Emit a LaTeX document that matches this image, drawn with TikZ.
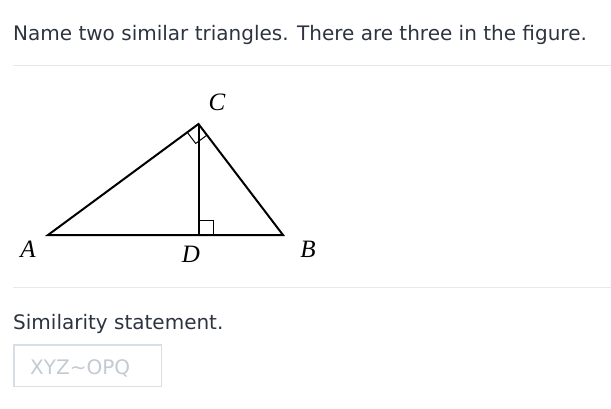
\documentclass[tikz,border=0pt]{standalone}
\usepackage{fontspec}
\setmainfont{DejaVu Sans}
\newfontfamily\labelfont{Liberation Serif}
\usetikzlibrary{calc}
\usepackage{xcolor}
\definecolor{text_dark}{HTML}{2D3440}
\definecolor{rule_gray}{HTML}{E8E8E8}
\definecolor{box_border}{HTML}{D8DEE6}
\definecolor{hint_gray}{HTML}{C3CAD2}

\begin{document}
\begin{tikzpicture}[x=1pt, y=-1pt,
	question/.style={anchor=base west, inner sep=0pt, text=text_dark, font=\fontsize{20}{24}\selectfont},
	vertex/.style={inner sep=0pt, font=\labelfont\itshape\fontsize{25}{28}\selectfont}]
	\useasboundingbox (0, 0) rectangle (611, 408);
	% header and rules
	\node[question] (Q) at (13, 40) {Name two similar triangles. There are three in the figure.};
	\draw[rule_gray] (13, 65.5) -- (611, 65.5);
	\draw[rule_gray] (13, 287.5) -- (611, 287.5);
	% triangle
	\coordinate (A) at (48, 235);
	\coordinate (B) at (283, 235);
	\coordinate (C) at (198.5, 124);
	\coordinate (D) at (198.5, 235);
	\draw[line width=2pt, line join=miter] (A) -- (B) -- (C) -- cycle;
	\draw[line width=2pt] (C) -- (D);
	\draw[line width=1pt] ($(D) + (0, -14.5)$) -- ($(D) + (14.5, -14.5)$) -- ($(D) + (14.5, 0)$);
	\coordinate (CA) at ($(C)!14pt!(A)$);
	\coordinate (CB) at ($(C)!14pt!(B)$);
	\draw[line width=1pt] (CA) -- ($(CA) + (CB) - (C)$) -- (CB);
	\node[vertex] (LA) at (28, 249) {A};
	\node[vertex] (LB) at (308, 249) {B};
	\node[vertex] (LC) at (217, 102) {C};
	\node[vertex] (LD) at (191, 254) {D};
	% answer field
	\node[question] (S) at (13, 329) {Similarity statement.};
	\draw[box_border, line width=1.5pt] (13.75, 344.75) rectangle (161.25, 386.25);
	\node[question, text=hint_gray] (H) at (30, 374) {XYZ\textasciitilde OPQ};
\end{tikzpicture}
\end{document}
